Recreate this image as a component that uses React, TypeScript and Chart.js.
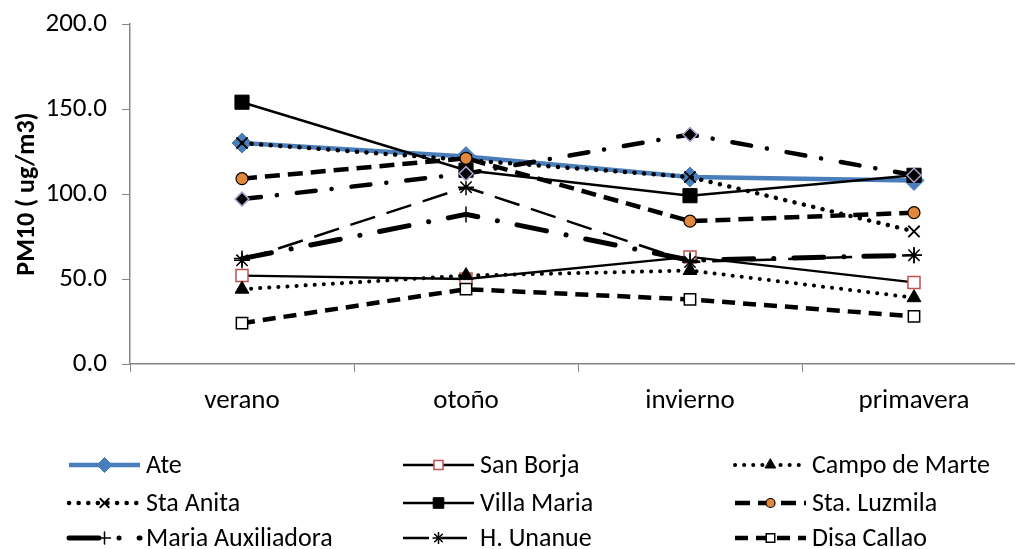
import React, { useEffect, useRef } from "react";
import { Chart, registerables } from "chart.js";
import { drawPoint } from "chart.js/helpers";

Chart.register(...registerables);

// Estaciones del año (eje X)
const seasons = ["verano", "otoño", "invierno", "primavera"];

// PM10 promedio por estación (ug/m3)
const ate = [130, 122, 110, 108];
const sanBorja = [52, 50, 63, 48];
const campoDeMarte = [44, 52, 55, 39];
const staAnita = [130, 120, 110, 78];
const villaMaria = [154, 114, 99, 111];
const staLuzmila = [109, 121, 84, 89];
const mariaAuxiliadora = [62, 88, 61, 64];
const hUnanue = [61, 104, 60, 64];
const disaCallao = [24, 44, 38, 28];
const otraEstacion = [97, 112, 135, 111];

// Eje Y
const yMin = 0;
const yMax = 200;
const yStep = 50;

const FONT = "Carlito, Lato, 'Liberation Sans', sans-serif";

type DS = any;

const BLACK = "#000000";
const BLUE = "#4a7ebb";

const datasets: DS[] = [
  {
    label: "Ate",
    data: ate,
    borderColor: BLUE,
    borderWidth: 4.5,
    pointStyle: "rectRot",
    pointRadius: 10,
    pointBackgroundColor: BLUE,
    pointBorderColor: BLUE,
    pointBorderWidth: 1,
  },
  {
    label: "San Borja",
    data: sanBorja,
    borderColor: BLACK,
    borderWidth: 2.4,
    pointStyle: "rect",
    pointRadius: 8.5,
    pointBackgroundColor: "#ffffff",
    pointBorderColor: "#c0504d",
    pointBorderWidth: 1.5,
  },
  {
    label: "Campo de Marte",
    data: campoDeMarte,
    borderColor: BLACK,
    borderWidth: 4,
    borderDash: [0.1, 9],
    borderCapStyle: "round",
    pointStyle: "triangle",
    pointRadius: 8,
    pointBackgroundColor: BLACK,
    pointBorderColor: BLACK,
    pointBorderWidth: 1,
  },
  {
    label: "Sta Anita",
    data: staAnita,
    borderColor: BLACK,
    borderWidth: 4.5,
    borderDash: [0.1, 9.5],
    borderCapStyle: "round",
    pointStyle: "crossRot",
    pointRadius: 8,
    pointBackgroundColor: BLACK,
    pointBorderColor: BLACK,
    pointBorderWidth: 1.8,
  },
  {
    label: "Villa Maria",
    data: villaMaria,
    borderColor: BLACK,
    borderWidth: 2.5,
    pointStyle: "rect",
    pointRadius: 10,
    pointBackgroundColor: BLACK,
    pointBorderColor: BLACK,
    pointBorderWidth: 1,
  },
  {
    label: "Sta. Luzmila",
    data: staLuzmila,
    borderColor: BLACK,
    borderWidth: 4.5,
    borderDash: [15, 8],
    pointStyle: "circle",
    pointRadius: 6,
    pointBackgroundColor: "#e3883b",
    pointBorderColor: BLACK,
    pointBorderWidth: 1.2,
  },
  {
    label: "Maria Auxiliadora",
    data: mariaAuxiliadora,
    borderColor: BLACK,
    borderWidth: 5,
    borderDash: [30, 20, 0.1, 20],
    borderCapStyle: "round",
    pointStyle: "cross",
    pointRadius: 8,
    pointBackgroundColor: BLACK,
    pointBorderColor: BLACK,
    pointBorderWidth: 1.5,
  },
  {
    label: "H. Unanue",
    data: hUnanue,
    borderColor: BLACK,
    borderWidth: 2.5,
    borderDash: [26, 12],
    pointStyle: "star",
    pointRadius: 8,
    pointBackgroundColor: BLACK,
    pointBorderColor: BLACK,
    pointBorderWidth: 1.5,
  },
  {
    label: "Disa Callao",
    data: disaCallao,
    borderColor: BLACK,
    borderWidth: 4.5,
    borderDash: [13, 8],
    pointStyle: "rect",
    pointRadius: 8,
    pointBackgroundColor: "#ffffff",
    pointBorderColor: BLACK,
    pointBorderWidth: 1.5,
  },
  {
    label: "",
    data: otraEstacion,
    borderColor: BLACK,
    borderWidth: 4.5,
    borderDash: [19, 16, 0.1, 20],
    borderCapStyle: "round",
    pointStyle: "rectRot",
    pointRadius: 7,
    pointBackgroundColor: BLACK,
    pointBorderColor: "#ac9dcc",
    pointBorderWidth: 1.5,
  },
];

// Leyenda en tres columnas, dibujada con el mismo estilo de cada serie
const legendCols = [69, 403, 735];
const legendRows = [465, 503, 538];
const legendLine = 71;

const gridLegend = {
  id: "gridLegend",
  afterDraw(chart: Chart) {
    const ctx = chart.ctx;
    let k = 0;
    chart.data.datasets.forEach((d: any) => {
      if (!d.label) return;
      const col = k % 3;
      const row = Math.floor(k / 3);
      k++;
      const x0 = legendCols[col];
      const y = legendRows[row];
      ctx.save();
      ctx.strokeStyle = d.borderColor;
      ctx.lineWidth = d.borderWidth;
      ctx.lineCap = d.borderCapStyle || "butt";
      ctx.setLineDash(d.borderDash || []);
      ctx.beginPath();
      ctx.moveTo(x0, y);
      ctx.lineTo(x0 + legendLine, y);
      ctx.stroke();
      ctx.setLineDash([]);
      ctx.fillStyle = d.pointBackgroundColor;
      ctx.strokeStyle = d.pointBorderColor;
      ctx.lineWidth = d.pointBorderWidth;
      drawPoint(
        ctx,
        {
          pointStyle: d.pointStyle,
          radius: d.pointRadius * 0.75,
          rotation: 0,
          borderWidth: d.pointBorderWidth,
        } as any,
        x0 + legendLine / 2,
        y
      );
      ctx.fillStyle = "#000000";
      ctx.font = `26px ${FONT}`;
      ctx.textAlign = "left";
      ctx.textBaseline = "middle";
      ctx.fillText(d.label, x0 + legendLine + 6, y + 1);
      ctx.restore();
    });
  },
};

function PM10Chart() {
  const ref = useRef<HTMLCanvasElement | null>(null);

  useEffect(() => {
    if (!ref.current) return;
    const n = datasets.length;
    const chart = new Chart(ref.current, {
      type: "line",
      data: {
        labels: seasons,
        datasets: datasets.map((d, i) => ({
          ...d,
          fill: false,
          tension: 0,
          order: n - i,
          pointHoverRadius: d.pointRadius,
        })),
      },
      options: {
        responsive: false,
        animation: false,
        devicePixelRatio: 1,
        layout: { padding: { top: 24, right: 14, bottom: 0, left: 0 } },
        plugins: {
          legend: { display: false },
          tooltip: { enabled: false },
        },
        scales: {
          x: {
            type: "category",
            offset: true,
            grid: {
              offset: true,
              drawOnChartArea: false,
              drawTicks: true,
              tickLength: 8,
              color: "#868686",
            },
            border: { color: "#868686", width: 1.5 },
            ticks: {
              color: "#000000",
              font: { family: FONT, size: 27 },
              padding: 13,
              maxRotation: 0,
            },
            afterFit(scale: any) {
              scale.height = 185;
            },
          },
          y: {
            min: yMin,
            max: yMax,
            grid: {
              drawOnChartArea: false,
              drawTicks: true,
              tickLength: 8,
              color: "#868686",
            },
            border: { color: "#868686", width: 1.5 },
            ticks: {
              stepSize: yStep,
              color: "#000000",
              font: { family: FONT, size: 27, lineHeight: 0.6 },
              padding: 15,
              callback: (v: any) => Number(v).toFixed(1),
            },
            title: {
              display: true,
              text: "PM10 ( ug/m3)",
              color: "#000000",
              font: { family: FONT, size: 26, weight: "bold" },
              padding: { top: 12, bottom: 0 },
            },
            afterFit(scale: any) {
              scale.width = 130;
            },
          },
        },
      },
      plugins: [gridLegend],
    });
    return () => chart.destroy();
  }, []);

  return <canvas ref={ref} width={1040} height={549} />;
}

export default function App() {
  return (
    <div
      style={{
        position: "fixed",
        left: 0,
        top: 0,
        width: 1015,
        height: 549,
        overflow: "hidden",
        background: "#ffffff",
      }}
    >
      <PM10Chart />
    </div>
  );
}
